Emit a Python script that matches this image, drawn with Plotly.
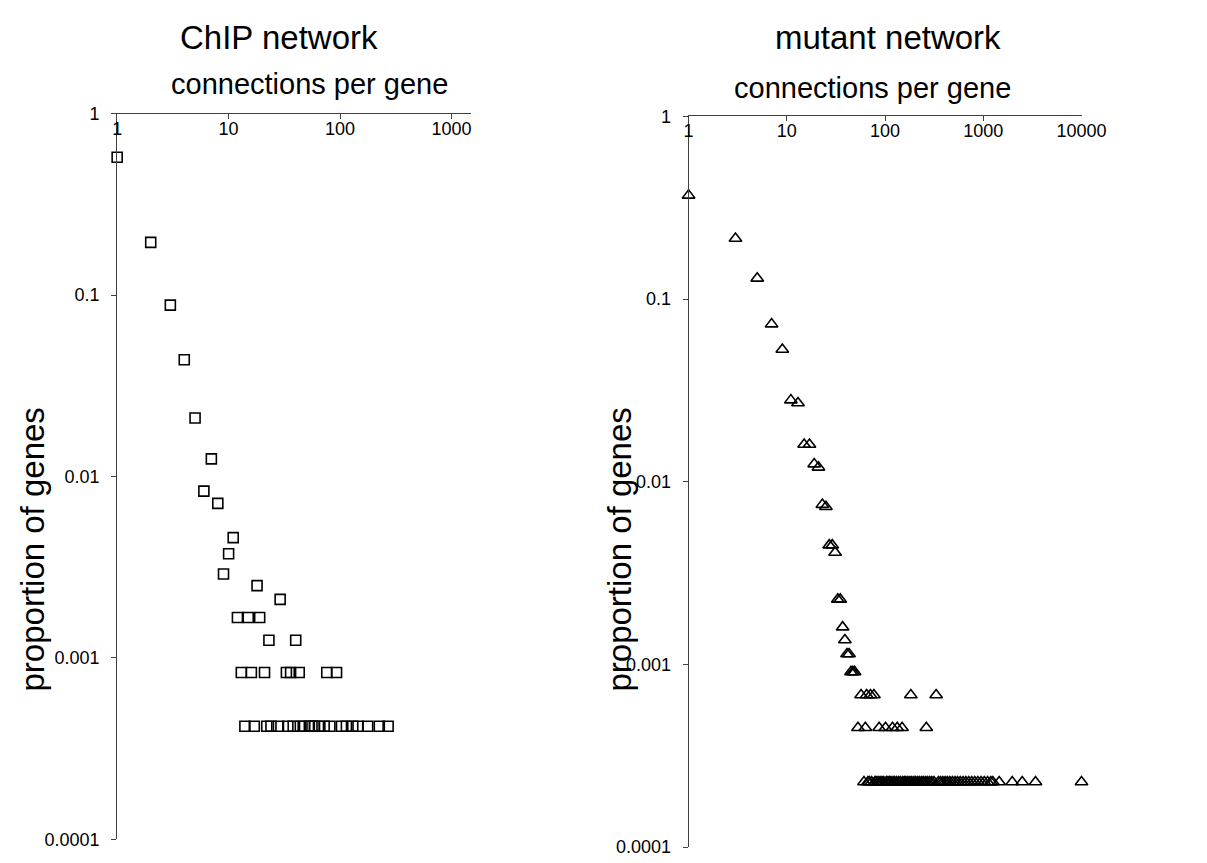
import plotly.graph_objects as go

# ---------------- data ----------------
chip_connections = [1, 2, 3, 4, 5, 6, 7, 8, 9, 10, 11, 12, 13, 14, 15, 16, 17, 18, 19,
                    21, 22, 23, 24, 28, 29, 33, 34, 36, 38, 40, 43, 44, 48, 53, 56,
                    59, 64, 72, 76, 81, 93, 103, 114, 130, 145, 177, 225, 270]
chip_proportion = [0.575, 0.195, 0.088, 0.044, 0.021, 0.0083, 0.0125, 0.0071, 0.0029,
                   0.00375, 0.0046, 0.00167, 0.00083, 0.00042, 0.00167, 0.00083, 0.00042,
                   0.0025, 0.00167, 0.00083, 0.00042, 0.00125, 0.00042, 0.00042, 0.0021,
                   0.00083, 0.00042, 0.00083, 0.00042, 0.00125, 0.00083, 0.00042, 0.00042,
                   0.00042, 0.00042, 0.00042, 0.00042, 0.00042, 0.00083, 0.00042, 0.00083,
                   0.00042, 0.00042, 0.00042, 0.00042, 0.00042, 0.00042, 0.00042]

mutant_connections = [1, 3, 5, 7, 9, 11, 13, 15, 17, 19, 21, 23, 25, 27, 29, 31, 33, 35,
                      37, 39, 41, 43, 45, 47, 49,
                      57, 65, 71, 77, 183, 331,
                      53, 63, 87, 101, 119, 133, 149, 263,
                      61, 67, 69, 73, 79, 81, 85, 89, 93, 97, 103, 107, 111, 115, 121,
                      125, 131, 137, 143, 151, 157, 163, 171, 179, 187, 197, 205, 215,
                      225, 237, 247, 259, 271, 285, 299, 315, 349, 367, 387, 409, 431,
                      457, 485, 515, 547, 583, 623, 665, 711, 763, 819, 881, 949, 1023,
                      1105, 1193, 1251, 1451, 1971, 2491, 3401, 10000]
mutant_proportion = [0.37, 0.215, 0.13, 0.073, 0.053, 0.028, 0.027, 0.016, 0.016, 0.0125,
                     0.012, 0.0075, 0.0073, 0.0045, 0.0045, 0.0041, 0.00227, 0.00227,
                     0.0016, 0.00136, 0.00114, 0.00114, 0.00091, 0.00091, 0.00091,
                     0.00068, 0.00068, 0.00068, 0.00068, 0.00068, 0.00068,
                     0.00045, 0.00045, 0.00045, 0.00045, 0.00045, 0.00045, 0.00045, 0.00045,
                     0.000227, 0.000227, 0.000227, 0.000227, 0.000227, 0.000227, 0.000227,
                     0.000227, 0.000227, 0.000227, 0.000227, 0.000227, 0.000227, 0.000227,
                     0.000227, 0.000227, 0.000227, 0.000227, 0.000227, 0.000227, 0.000227,
                     0.000227, 0.000227, 0.000227, 0.000227, 0.000227, 0.000227, 0.000227,
                     0.000227, 0.000227, 0.000227, 0.000227, 0.000227, 0.000227, 0.000227,
                     0.000227, 0.000227, 0.000227, 0.000227, 0.000227, 0.000227, 0.000227,
                     0.000227, 0.000227, 0.000227, 0.000227, 0.000227, 0.000227, 0.000227,
                     0.000227, 0.000227, 0.000227, 0.000227, 0.000227, 0.000227, 0.000227,
                     0.000227, 0.000227, 0.000227, 0.000227, 0.000227, 0.000227]

y_tickvals = [1, 0.1, 0.01, 0.001, 0.0001]
y_ticktext = ["1", "0.1", "0.01", "0.001", "0.0001"]
chip_x_tickvals = [1, 10, 100, 1000]
chip_x_ticktext = ["1", "10", "100", "1000"]
mutant_x_tickvals = [1, 10, 100, 1000, 10000]
mutant_x_ticktext = ["1", "10", "100", "1000", "10000"]

# ---------------- layout helpers ----------------
W, H = 1207, 863
FONT = "Liberation Sans, Arial, sans-serif"
AXCOL = "#404040"
TICKSIZE = 18


def px_x(p):
    return p / W


def px_y(p):
    return 1 - p / H


fig = go.Figure()
fig.add_trace(go.Scatter(
    x=chip_connections, y=chip_proportion, mode="markers", xaxis="x", yaxis="y",
    marker=dict(symbol="square-open", size=10, color="black", line=dict(width=1.6, color="black")),
    cliponaxis=False, showlegend=False, hoverinfo="skip"))
fig.add_trace(go.Scatter(
    x=mutant_connections, y=mutant_proportion, mode="markers", xaxis="x2", yaxis="y2",
    marker=dict(symbol="triangle-up-open", size=11, color="black", line=dict(width=1.6, color="black")),
    cliponaxis=False, showlegend=False, hoverinfo="skip"))

common_x = dict(type="log", side="top", showline=True, linecolor=AXCOL, linewidth=1,
                ticks="inside", ticklen=5, tickcolor=AXCOL, ticklabelposition="inside",
                ticklabeloverflow="allow", ticklabelstandoff=4,
                showgrid=False, zeroline=False,
                tickfont=dict(family=FONT, size=TICKSIZE, color="black"))
common_y = dict(type="log", range=[-4.0002, 0.0002], showline=True, linecolor=AXCOL, linewidth=1,
                ticks="outside", ticklen=5, tickcolor=AXCOL, tickvals=y_tickvals,
                ticktext=y_ticktext, ticklabelstandoff=8, ticklabeloverflow="allow",
                showgrid=False, zeroline=False,
                tickfont=dict(family=FONT, size=TICKSIZE, color="black"))

fig.update_layout(
    width=W, height=H, autosize=False,
    margin=dict(l=0, r=0, t=0, b=0),
    paper_bgcolor="white", plot_bgcolor="white",
    xaxis=dict(common_x, domain=[px_x(115), px_x(478)], range=[-0.0002, 3.176], anchor="y",
               tickvals=chip_x_tickvals, ticktext=chip_x_ticktext),
    yaxis=dict(common_y, domain=[px_y(849), px_y(106)], anchor="x"),
    xaxis2=dict(common_x, domain=[px_x(701), px_x(1104)], range=[-0.0002, 4.0005], anchor="y2",
                tickvals=mutant_x_tickvals, ticktext=mutant_x_ticktext),
    yaxis2=dict(common_y, domain=[px_y(857), px_y(109)], anchor="x2"),
)


def label(text, x, y, size, angle=0):
    return dict(text=text, x=px_x(x), y=px_y(y), xref="paper", yref="paper",
                xanchor="center", yanchor="middle", showarrow=False, textangle=angle,
                font=dict(family=FONT, size=size, color="black"))


fig.update_layout(annotations=[
    label("ChIP network", 281, 28, 33),
    label("mutant network", 906, 28, 33),
    label("connections per gene", 312, 76, 29),
    label("connections per gene", 890, 80, 29),
    label("proportion of genes", 28, 552, 33, -90),
    label("proportion of genes", 630, 552, 33, -90),
])

fig.write_html("out.html", config={"displayModeBar": False, "staticPlot": True},
               post_script="document.body.style.margin='0';document.body.style.overflow='hidden';")
